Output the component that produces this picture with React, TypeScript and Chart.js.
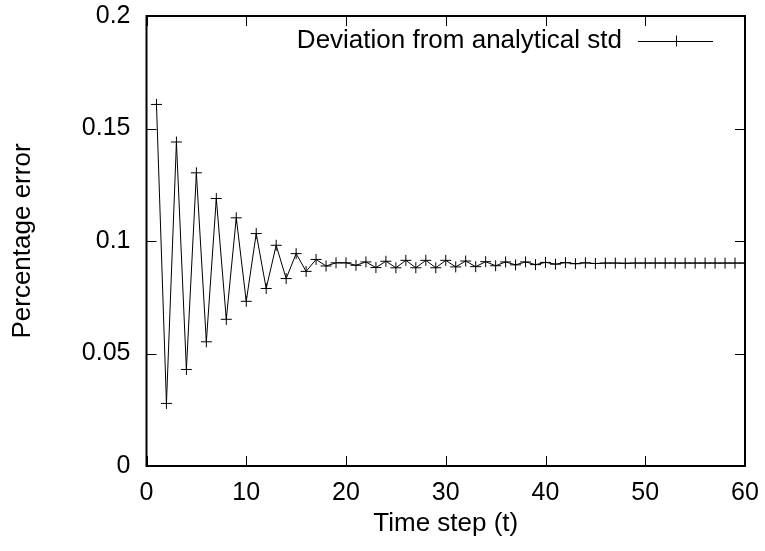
import React, { useEffect, useRef } from "react";
import { Chart, registerables } from "chart.js";

Chart.register(...registerables);

const timeSteps = [
  1, 2, 3, 4, 5, 6, 7, 8, 9, 10, 11, 12, 13, 14, 15, 16, 17, 18, 19, 20,
  21, 22, 23, 24, 25, 26, 27, 28, 29, 30, 31, 32, 33, 34, 35, 36, 37, 38, 39, 40,
  41, 42, 43, 44, 45, 46, 47, 48, 49, 50, 51, 52, 53, 54, 55, 56, 57, 58, 59, 60,
];

const deviation = [
  0.1607, 0.0278, 0.144, 0.0429, 0.1303, 0.0552, 0.1189, 0.0652, 0.1103, 0.0732,
  0.1033, 0.0789, 0.0981, 0.0833, 0.0944, 0.0865, 0.0918, 0.0889, 0.0903, 0.0903,
  0.0892, 0.0907, 0.0882, 0.091, 0.0881, 0.0914, 0.0881, 0.0914, 0.0881, 0.0914,
  0.0885, 0.0911, 0.0886, 0.0908, 0.089, 0.0907, 0.0894, 0.0907, 0.0895, 0.0905,
  0.0897, 0.0904, 0.0899, 0.0903, 0.09, 0.0902, 0.0902, 0.0901, 0.0902, 0.0902,
  0.0902, 0.0902, 0.0902, 0.0902, 0.0902, 0.0902, 0.0902, 0.0902, 0.0902, 0.0902,
];

const seriesLabel = "Deviation from analytical std";
const xTitle = "Time step (t)";
const yTitle = "Percentage error";

const FONT = "'Liberation Sans', Arial, Helvetica, sans-serif";
const TICK_SIZE = 25;
const TITLE_SIZE = 26;

const framePlugin = {
  id: "gnuplotFrame",
  afterDatasetsDraw(chart: any) {
    const { ctx, chartArea, scales } = chart;
    const { left, right, top, bottom } = chartArea;
    const tickLen = 10;
    ctx.save();
    ctx.strokeStyle = "#000";
    ctx.lineWidth = 1;
    scales.x.ticks.forEach((t: any) => {
      const px = Math.round(scales.x.getPixelForValue(t.value)) + 0.5;
      ctx.beginPath();
      ctx.moveTo(px, bottom);
      ctx.lineTo(px, bottom - tickLen);
      ctx.moveTo(px, top);
      ctx.lineTo(px, top + tickLen);
      ctx.stroke();
    });
    scales.y.ticks.forEach((t: any) => {
      const py = Math.round(scales.y.getPixelForValue(t.value)) + 0.5;
      ctx.beginPath();
      ctx.moveTo(left, py);
      ctx.lineTo(left + tickLen, py);
      ctx.moveTo(right, py);
      ctx.lineTo(right - tickLen, py);
      ctx.stroke();
    });
    ctx.lineWidth = 2;
    ctx.strokeRect(left, top, right - left, bottom - top);

    // legend inside plot (gnuplot style, top right)
    const ly = 41;
    const lineStart = 638;
    const lineEnd = 713;
    ctx.font = `${TITLE_SIZE}px ${FONT}`;
    ctx.fillStyle = "#000";
    ctx.textAlign = "right";
    ctx.textBaseline = "middle";
    ctx.fillText(chart.data.datasets[0].label, 622, ly);
    ctx.lineWidth = 1;
    ctx.beginPath();
    ctx.moveTo(lineStart, ly + 0.5);
    ctx.lineTo(lineEnd, ly + 0.5);
    const cx = Math.round((lineStart + lineEnd) / 2);
    ctx.moveTo(cx + 0.5, ly - 5.5);
    ctx.lineTo(cx + 0.5, ly + 5.5);
    ctx.stroke();
    ctx.restore();
  },
};

export default function App() {
  const ref = useRef<HTMLCanvasElement>(null);
  useEffect(() => {
    document.body.style.margin = "0";
    const chart = new Chart(ref.current!, {
      type: "line",
      data: {
        datasets: [
          {
            label: seriesLabel,
            data: timeSteps.map((t, i) => ({ x: t, y: deviation[i] })),
            borderColor: "#000",
            backgroundColor: "#000",
            borderWidth: 1,
            pointStyle: "cross",
            pointRadius: 5.5,
            pointBorderWidth: 1,
            pointBorderColor: "#000",
            tension: 0,
          },
        ],
      },
      options: {
        animation: false,
        responsive: false,
        maintainAspectRatio: false,
        layout: { padding: { left: 0, right: 20, top: 16, bottom: 0 } },
        plugins: { legend: { display: false }, tooltip: { enabled: false } },
        scales: {
          x: {
            type: "linear",
            min: 0,
            max: 60,
            ticks: {
              stepSize: 10,
              color: "#000",
              padding: 12,
              font: { family: FONT, size: TICK_SIZE },
              maxRotation: 0,
            },
            grid: { display: false, drawTicks: false },
            border: { display: false },
            title: {
              display: true,
              text: xTitle,
              color: "#000",
              font: { family: FONT, size: TITLE_SIZE },
              padding: { top: 4, bottom: 12 },
            },
            afterFit: (s: any) => {
              s.height = 85;
              s.paddingLeft = 0;
              s.paddingRight = 0;
            },
          },
          y: {
            min: 0,
            max: 0.2,
            ticks: {
              stepSize: 0.05,
              color: "#000",
              padding: 16,
              font: { family: FONT, size: TICK_SIZE },
              callback: (v: any) => String(Number(Number(v).toFixed(2))),
            },
            grid: { display: false, drawTicks: false },
            border: { display: false },
            title: {
              display: true,
              text: yTitle,
              color: "#000",
              font: { family: FONT, size: TITLE_SIZE },
              padding: { top: 7, bottom: 30 },
            },
            afterFit: (s: any) => {
              s.width = 146.5;
              s.paddingTop = 0;
              s.paddingBottom = 0;
            },
          },
        },
      },
      plugins: [framePlugin],
    });
    return () => chart.destroy();
  }, []);
  return (
    <div style={{ position: "absolute", left: 0, top: 0, width: 765, height: 551 }}>
      <canvas ref={ref} width={765} height={551} />
    </div>
  );
}
